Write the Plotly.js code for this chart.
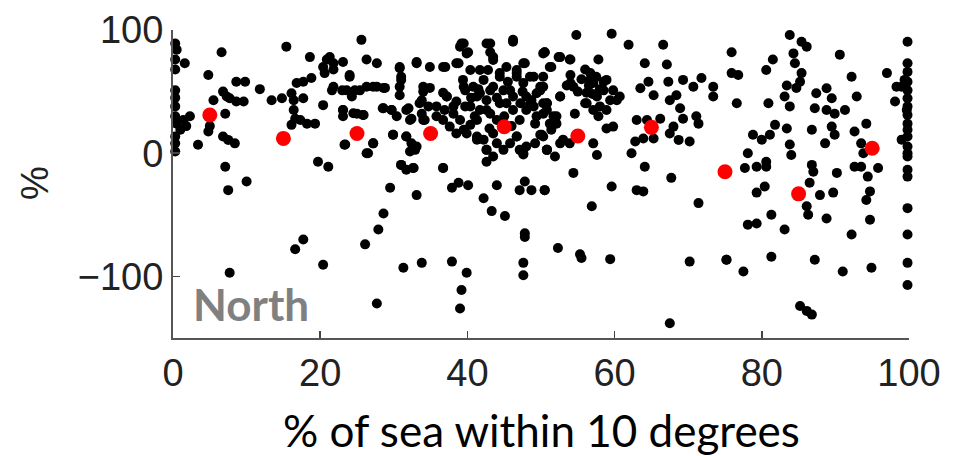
<!DOCTYPE html>
<html>
<head>
<meta charset="utf-8">
<script src="https://cdn.plot.ly/plotly-3.0.1.min.js"></script>
<style>html,body{margin:0;padding:0;background:#fff;}#chart{width:953px;height:456px;}</style>
</head>
<body>
<div id="chart"></div>
<script>
// Individual stations (black dots): x = % of sea within 10 degrees, y = %
var blackX = [
0.3,0.5,0.3,1.6,0.3,0.3,0.3,0.3,0.3,0.5,1.4,2.3,1.0,1.8,0.3,0.3,0.3,3.4,4.8,6.6,5.5,5.0,4.8,6.8,
7.3,7.7,8.6,9.6,7.1,6.8,7.5,8.4,8.6,9.8,7.1,7.5,10.0,7.7,11.8,13.4,14.8,15.4,
16.1,16.4,16.4,16.6,16.1,17.3,18.2,19.3,16.8,17.7,18.8,17.7,18.6,16.6,17.7,19.7,21.1,20.4,20.4,
20.4,20.9,21.3,21.8,20.6,21.6,23.0,23.1,23.1,23.1,23.4,24.0,24.7,24.3,
25.6,26.3,27.7,26.3,27.7,28.6,25.0,25.9,27.2,26.5,30.8,31.0,30.8,30.8,28.6,29.7,30.4,29.9,
33.1,34.9,37.0,38.8,39.2,40.1,32.0,32.4,31.7,32.4,32.9,31.0,31.7,32.7,29.5,28.6,27.9,26.1,27.7,
31.3,33.8,33.1,34.0,34.9,33.8,34.7,33.8,34.2,35.8,36.9,37.2,36.7,36.7,37.9,38.8,40.1,37.9,39.9,
39.2,39.0,42.2,43.3,45.1,44.0,47.8,47.8,47.6,47.6,47.1,47.8,48.7,50.5,47.6,42.6,43.1,46.2,50.5,47.8,
39.4,39.7,38.5,39.7,38.1,39.0,40.4,41.3,37.6,38.5,39.9,41.3,42.2,42.6,43.5,42.6,44.0,44.9,45.8,
46.7,47.1,48.0,49.2,50.1,50.8,41.7,42.6,43.1,42.2,42.8,43.5,44.4,44.9,45.3,46.2,47.1,48.0,48.7,
49.4,50.3,46.7,47.6,48.5,46.2,44.0,43.1,41.3,40.8,40.4,45.3,46.7,50.8,50.3,49.4,51.2,49.2,
39.5,43.1,46.2,39.9,43.5,41.7,44.4,46.7,49.0,50.3,52.6,54.0,47.6,51.2,39.5,41.7,43.5,45.8,48.0,
49.9,40.4,42.6,44.4,47.2,49.0,50.8,52.1,52.6,54.0,39.5,41.3,42.6,43.5,46.7,47.6,49.9,50.8,52.6,
56.7,56.2,21.8,24.0,21.8,23.6,25.4,27.2,28.8,30.8,31.0,33.1,36.7,38.5,39.0,23.1,24.5,25.8,28.5,
29.7,31.7,32.2,34.0,33.5,34.0,35.8,37.2,38.1,36.7,29.9,31.7,33.1,32.2,27.2,26.3,23.3,31.0,32.6,36.7,
54.8,59.6,61.9,66.6,75.9,50.5,52.4,53.9,51.4,57.8,64.1,67.1,50.3,49.9,54.0,54.4,53.5,52.6,
56.7,57.1,56.2,57.6,58.5,58.9,59.8,60.7,58.0,57.1,58.9,59.4,56.0,60.3,57.8,
63.5,64.6,65.3,67.3,68.4,69.3,70.7,71.8,73.4,73.4,67.5,68.9,75.9,76.6,
50.3,50.8,51.7,52.1,51.4,50.3,50.8,51.9,53.0,53.9,54.6,57.1,57.6,58.9,59.8,
63.0,64.4,66.2,68.0,68.7,70.2,62.8,63.9,65.3,62.3,67.5,71.1,71.4,69.3,
64.1,67.7,54.4,50.5,59.6,63.0,63.9,56.9,71.4,52.3,55.3,55.5,59.4,70.2,75.2,67.5,
76.8,77.7,79.3,80.6,80.6,78.1,78.8,80.0,81.1,81.8,83.4,79.3,80.4,81.5,80.6,80.9,83.8,85.4,86.1,
84.3,84.5,85.4,85.2,84.7,83.4,83.1,83.8,83.8,84.0,86.8,87.4,87.2,88.8,89.5,88.8,89.9,91.3,89.5,89.9,88.6,
90.6,92.2,92.9,92.6,94.2,86.8,87.0,86.5,87.9,86.1,86.3,90.2,89.7,88.8,
93.5,93.8,93.5,94.4,94.7,94.2,92.6,95.8,94.7,92.2,81.3,78.1,79.3,83.1,75.2,77.5,81.3,87.2,91.0,94.9,
85.2,86.1,86.8,97.0,98.3,98.1,99.0,
99.8,99.8,99.8,99.8,99.8,99.8,99.8,99.8,99.8,99.8,99.8,99.8,99.8,99.8,99.8,99.8,99.8,99.8,99.8,99.8,
99.4,99.0,99.7,
55.5,56.5,57.5,58.0,56.0,57.0,55.0,58.5,
40.5,41.5,44.0,45.5,47.5,48.5,45.0,46.0,41.0,43.0
];
var blackY = [
89,84,76,73,68,51,45,38,30,24,27,30,19,22,13.5,8,1.4,6.8,63.5,82,43,22,17.6,50,
46,44.6,42,42,32,13.5,10.8,8,58,58,-11,-30,-23,-97,52,43,44.6,86.5,
48.6,43,35,28,23,27,24,24,57,58,61,44.6,78,-78,-70,-7,-11,-90.5,39,
70,76,78,68,65,51,51,74,35,30,7,62,51,46,
92,76,73,54,54,53,32,31,8,0,69,62,54,47,36.5,35,30,15,
74,70,70,73,89,82,36.5,28,13.5,8,2.7,-9.5,-13.5,-12,-28,-49,-62,-74,-122,
-93,-89,-34,50,53,43,38,32,27,30,35,46,49,-12,-28,-24,-26,-88,-97,
-111,-126,-36.5,-47,-51,-26,-65,-68,-89,-99,-30,-23,-30,-30,-1,89,82,92,82,73,
59.5,51,42,38,32,27,23,27,21.6,16,16,13.5,11,2.7,-2.7,-7,8,2.7,8,
13.5,2.7,5.4,8,15,2.7,35,43,51,59.5,67.6,75.7,62,51,40.5,35,27,35,43,
48.6,54,62,57,62,46,27,32,46,54,67.6,70,67.6,40.5,32,30,24,24,
89,89,90.5,81,78,67.6,65,65,62,81,78,76,73,70,54,48.6,54,51,46,
54,38,35,40.5,40.5,38,40.5,30,46,57,19,11,2.7,16,13.5,0,15,2.7,8,
59.5,40.5,73,63.5,54,51,51,54,53,70,59.5,73,70,73,86.5,35,32.4,31,36.5,
35,35,27,54,40.5,27,38,46,38,27,15,13.5,5.4,1.4,8,0,6.8,-9.5,-12,-12,
96,97,88,88,82,82,78,76,70,76,73,72,62,51,63.5,54,55,46,
65,57,49,46,51,59.5,51,46,38,35,35,43,40.5,43,30,
52.7,58,47,58,47,59.5,54,61,54,46,43,36.5,65,40.5,
40.5,35,30,24,19,13.5,2.7,-2.7,11,8,32,8,-1.4,20,21.6,
27,27,28,21.6,10.8,9.5,9.5,12,12,0,16,30,24,28,
-11,-20,-16,-30,-27,-30,-31,-43,-40.5,-77,-82,-85,-86,-88,-86.5,-138,
63.5,-12,-11,-7,-11,0,15,11,15,23,20,-32,-27,76,67.6,40.5,96,90.5,86.5,
81,73,65,58,53,55,46,38,7,-1.4,19,48.6,36.5,52.7,44.6,35,32,35,21.6,15,8,
80,62,46,17.6,24,-9.5,-15,-24,-34,-43,-50,-16,-32,-53,
8,0,-11,-19,-31,-38,-11,-12,-54,-66,-50,-58,-57,-62,-86.5,-96,-84,-86.5,-96,-93,
-124,-128,-131,65,54,42,11,
90.5,73,66,58,51,44.6,38,31,24,19,13.5,5.4,0,-2.7,-13.5,-19,-44.6,-66,-89,-107,
59.5,54,35,
60,55,62,52,68,48,50,58,
45,52,45,58,50,40,30,22,30,20
];
// Bin means (red dots)
var redX = [5, 15, 25, 35, 45, 55, 65, 75, 85, 95];
var redY = [31, 12, 16, 16, 21.5, 14, 21, -15, -33, 4];

var xTicks = [0, 20, 40, 60, 80, 100];
var yTicks = [-100, 0, 100];
var yTickText = ['\u2212100', '0', '100'];

var traces = [
  {x: blackX, y: blackY, type: 'scatter', mode: 'markers', cliponaxis: false,
   marker: {color: '#000', size: 10, line: {width: 0}}, hoverinfo: 'x+y'},
  {x: redX, y: redY, type: 'scatter', mode: 'markers', cliponaxis: false,
   marker: {color: '#ff0000', size: 15, line: {width: 0}}, hoverinfo: 'x+y'}
];

var tickFont = {family: 'Liberation Sans, Arial, sans-serif', size: 38, color: '#222'};
var layout = {
  width: 953, height: 456,
  margin: {l: 173, r: 44, t: 30, b: 118, pad: 0},
  paper_bgcolor: '#fff', plot_bgcolor: '#fff',
  showlegend: false,
  xaxis: {range: [0, 100], tickvals: xTicks, ticktext: xTicks.map(String),
    showline: true, linecolor: '#555', linewidth: 2, ticks: 'inside', ticklen: 7,
    tickwidth: 1.5, tickcolor: '#444', showgrid: false, zeroline: false,
    tickfont: tickFont, fixedrange: true},
  yaxis: {range: [-150, 100], tickvals: yTicks, ticktext: yTickText,
    showline: true, linecolor: '#555', linewidth: 2, ticks: 'inside', ticklen: 7,
    tickwidth: 1.5, tickcolor: '#444', showgrid: false, zeroline: false,
    tickfont: tickFont, fixedrange: true},
  annotations: [
    {text: '% of sea within 10 degrees', xref: 'paper', yref: 'paper', x: 0.5, y: -0.3,
     xanchor: 'center', yanchor: 'middle', showarrow: false,
     font: {family: 'Lato, sans-serif', size: 44, color: '#000'}},
    {text: '%', xref: 'paper', yref: 'paper', x: -0.1875, y: 0.503, textangle: -90,
     xanchor: 'center', yanchor: 'middle', showarrow: false,
     font: {family: 'Liberation Sans, Arial, sans-serif', size: 38, color: '#222'}},
    {text: '<b>North</b>', xref: 'x', yref: 'y', x: 2.4, y: -122,
     xanchor: 'left', yanchor: 'middle', showarrow: false,
     font: {family: 'Lato, sans-serif', size: 44, color: '#808080'}}
  ]
};
Plotly.newPlot('chart', traces, layout, {displayModeBar: false, staticPlot: true});
</script>
</body>
</html>
